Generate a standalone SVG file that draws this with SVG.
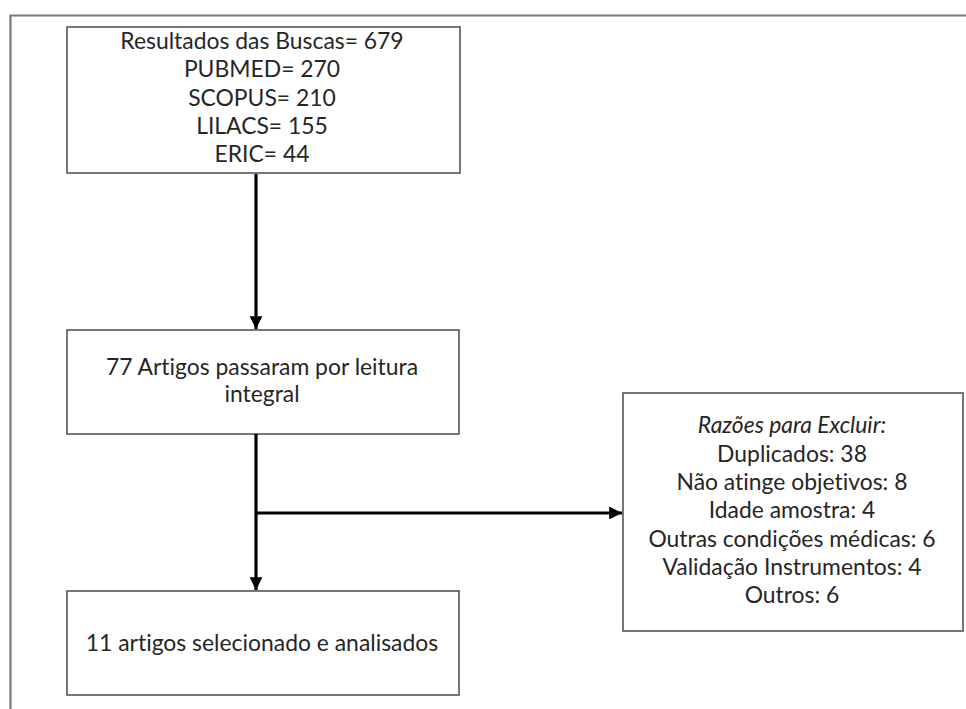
<svg xmlns="http://www.w3.org/2000/svg" width="966" height="709" viewBox="0 0 966 709">
<style>
.frame{fill:none;stroke:#7a7a7a;stroke-width:2.2}
.box{fill:#ffffff;stroke:#555555;stroke-width:1.6}
.t{font-family:Lato,"Open Sans","Liberation Sans",sans-serif;font-size:22.9px;fill:#262626;text-anchor:middle;font-variant-ligatures:none}
.it{font-style:italic}
.conn{fill:none;stroke:#000000;stroke-width:3.2}
</style>
<defs>
<marker id="ah" viewBox="0 0 10 10" refX="10" refY="5" markerWidth="4" markerHeight="4" markerUnits="strokeWidth" orient="auto">
<path d="M0,0 L10,5 L0,10 Z" fill="#000000"/>
</marker>
</defs>
<rect width="966" height="709" fill="#ffffff"/>
<path class="frame" d="M966,15.5 H10.5 V709"/>
<g id="n1">
<rect class="box" x="67" y="27" width="393" height="146"/>
<text class="t" x="262" y="49">Resultados das Buscas= 679</text>
<text class="t" x="262" y="77">PUBMED= 270</text>
<text class="t" x="262" y="106">SCOPUS= 210</text>
<text class="t" x="262" y="134">LILACS= 155</text>
<text class="t" x="262" y="162">ERIC= 44</text>
</g>
<g id="n2">
<rect class="box" x="67" y="330" width="392" height="104"/>
<text class="t" x="262" y="375">77 Artigos passaram por leitura</text>
<text class="t" x="262" y="402">integral</text>
</g>
<g id="n3">
<rect class="box" x="67" y="591" width="392" height="104"/>
<text class="t" x="262" y="651">11 artigos selecionado e analisados</text>
</g>
<g id="n4">
<rect class="box" x="623" y="393" width="340" height="238"/>
<text class="t it" x="792" y="433">Razões para Excluir:</text>
<text class="t" x="792" y="462">Duplicados: 38</text>
<text class="t" x="792" y="490">Não atinge objetivos: 8</text>
<text class="t" x="792" y="518">Idade amostra: 4</text>
<text class="t" x="792" y="547">Outras condições médicas: 6</text>
<text class="t" x="792" y="575">Validação Instrumentos: 4</text>
<text class="t" x="792" y="603">Outros: 6</text>
</g>
<g id="connectors">
<line class="conn" x1="256" y1="174" x2="256" y2="329" marker-end="url(#ah)"/>
<line class="conn" x1="256" y1="434" x2="256" y2="590" marker-end="url(#ah)"/>
<line class="conn" x1="256" y1="513" x2="622" y2="513" marker-end="url(#ah)"/>
</g>
</svg>
